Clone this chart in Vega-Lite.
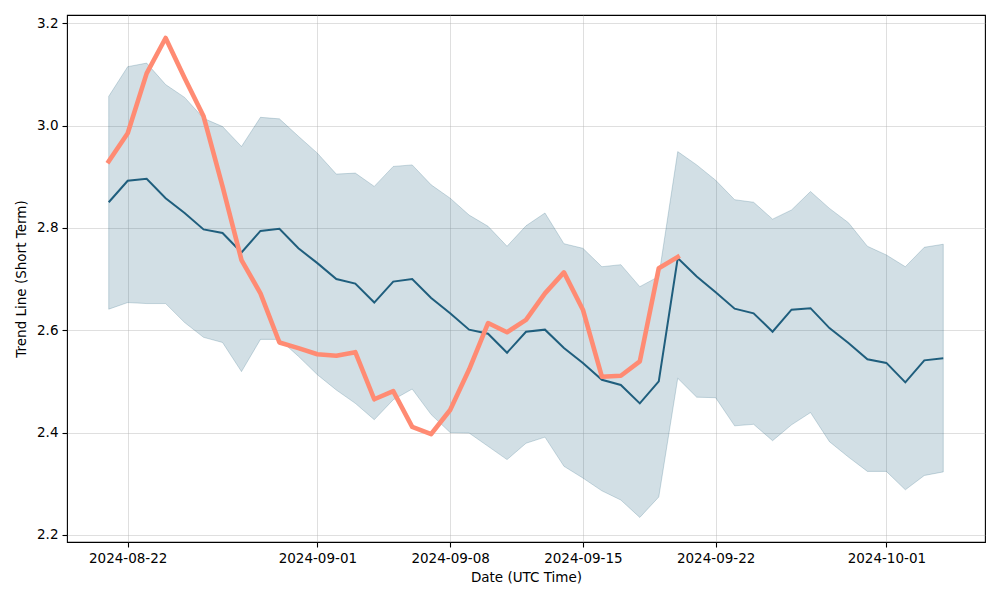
{
  "$schema": "https://vega.github.io/schema/vega-lite/v6.json",
  "width": 918,
  "height": 527,
  "autosize": {"type": "none"},
  "padding": {"left": 67, "top": 15, "right": 15, "bottom": 58},
  "background": "white",
  "config": {
    "view": {"stroke": "black", "strokeWidth": 1.1},
    "axis": {
      "labelFont": "DejaVu Sans",
      "titleFont": "DejaVu Sans",
      "labelFontSize": 13.5,
      "titleFontSize": 13.5,
      "labelColor": "black",
      "titleColor": "black",
      "titleFontWeight": "normal",
      "tickColor": "black",
      "tickSize": 5,
      "tickWidth": 1.1,
      "domain": false,
      "gridColor": "#b0b0b0",
      "gridOpacity": 0.4,
      "gridWidth": 1,
      "labelPadding": 4
    }
  },
  "data": {
    "values": [
      {"date": "2024-08-21", "mean": 2.850, "lower": 2.641, "upper": 3.057, "trend": 2.930},
      {"date": "2024-08-22", "mean": 2.892, "lower": 2.654, "upper": 3.115, "trend": 2.985},
      {"date": "2024-08-23", "mean": 2.896, "lower": 2.652, "upper": 3.122, "trend": 3.102},
      {"date": "2024-08-24", "mean": 2.858, "lower": 2.652, "upper": 3.080, "trend": 3.171},
      {"date": "2024-08-25", "mean": 2.829, "lower": 2.615, "upper": 3.055, "trend": 3.093},
      {"date": "2024-08-26", "mean": 2.797, "lower": 2.586, "upper": 3.014, "trend": 3.018},
      {"date": "2024-08-27", "mean": 2.790, "lower": 2.576, "upper": 2.998, "trend": 2.881},
      {"date": "2024-08-28", "mean": 2.752, "lower": 2.519, "upper": 2.959, "trend": 2.737},
      {"date": "2024-08-29", "mean": 2.794, "lower": 2.582, "upper": 3.016, "trend": 2.672},
      {"date": "2024-08-30", "mean": 2.798, "lower": 2.582, "upper": 3.013, "trend": 2.576},
      {"date": "2024-08-31", "mean": 2.760, "lower": 2.549, "upper": 2.979, "trend": 2.565},
      {"date": "2024-09-01", "mean": 2.731, "lower": 2.513, "upper": 2.946, "trend": 2.553},
      {"date": "2024-09-02", "mean": 2.700, "lower": 2.483, "upper": 2.905, "trend": 2.550},
      {"date": "2024-09-03", "mean": 2.691, "lower": 2.457, "upper": 2.907, "trend": 2.557},
      {"date": "2024-09-04", "mean": 2.654, "lower": 2.425, "upper": 2.881, "trend": 2.465},
      {"date": "2024-09-05", "mean": 2.695, "lower": 2.464, "upper": 2.920, "trend": 2.481},
      {"date": "2024-09-06", "mean": 2.700, "lower": 2.485, "upper": 2.923, "trend": 2.411},
      {"date": "2024-09-07", "mean": 2.663, "lower": 2.435, "upper": 2.884, "trend": 2.397},
      {"date": "2024-09-08", "mean": 2.633, "lower": 2.400, "upper": 2.858, "trend": 2.444},
      {"date": "2024-09-09", "mean": 2.601, "lower": 2.399, "upper": 2.825, "trend": 2.523},
      {"date": "2024-09-10", "mean": 2.593, "lower": 2.373, "upper": 2.803, "trend": 2.614},
      {"date": "2024-09-11", "mean": 2.556, "lower": 2.347, "upper": 2.764, "trend": 2.596},
      {"date": "2024-09-12", "mean": 2.597, "lower": 2.379, "upper": 2.804, "trend": 2.620},
      {"date": "2024-09-13", "mean": 2.601, "lower": 2.391, "upper": 2.829, "trend": 2.672},
      {"date": "2024-09-14", "mean": 2.565, "lower": 2.334, "upper": 2.769, "trend": 2.713},
      {"date": "2024-09-15", "mean": 2.536, "lower": 2.311, "upper": 2.760, "trend": 2.640},
      {"date": "2024-09-16", "mean": 2.503, "lower": 2.286, "upper": 2.724, "trend": 2.509},
      {"date": "2024-09-17", "mean": 2.493, "lower": 2.268, "upper": 2.728, "trend": 2.511},
      {"date": "2024-09-18", "mean": 2.457, "lower": 2.234, "upper": 2.685, "trend": 2.539},
      {"date": "2024-09-19", "mean": 2.500, "lower": 2.274, "upper": 2.705, "trend": 2.721},
      {"date": "2024-09-20", "mean": 2.741, "lower": 2.506, "upper": 2.949, "trend": 2.743},
      {"date": "2024-09-21", "mean": 2.705, "lower": 2.469, "upper": 2.923},
      {"date": "2024-09-22", "mean": 2.674, "lower": 2.468, "upper": 2.893},
      {"date": "2024-09-23", "mean": 2.642, "lower": 2.413, "upper": 2.855},
      {"date": "2024-09-24", "mean": 2.633, "lower": 2.416, "upper": 2.850},
      {"date": "2024-09-25", "mean": 2.597, "lower": 2.384, "upper": 2.817},
      {"date": "2024-09-26", "mean": 2.640, "lower": 2.415, "upper": 2.835},
      {"date": "2024-09-27", "mean": 2.643, "lower": 2.439, "upper": 2.871},
      {"date": "2024-09-28", "mean": 2.604, "lower": 2.382, "upper": 2.838},
      {"date": "2024-09-29", "mean": 2.575, "lower": 2.352, "upper": 2.810},
      {"date": "2024-09-30", "mean": 2.543, "lower": 2.324, "upper": 2.764},
      {"date": "2024-10-01", "mean": 2.536, "lower": 2.324, "upper": 2.747},
      {"date": "2024-10-02", "mean": 2.498, "lower": 2.288, "upper": 2.724},
      {"date": "2024-10-03", "mean": 2.541, "lower": 2.316, "upper": 2.762},
      {"date": "2024-10-04", "mean": 2.545, "lower": 2.323, "upper": 2.768}
    ]
  },
  "encoding": {
    "x": {
      "field": "date",
      "type": "temporal",
      "title": "Date (UTC Time)",
      "scale": {
        "type": "utc",
        "domain": [
          {"year": 2024, "month": 8, "date": 18, "hours": 19, "minutes": 12, "utc": true},
          {"year": 2024, "month": 10, "date": 6, "hours": 4, "minutes": 48, "utc": true}
        ],
        "nice": false
      },
      "axis": {
        "format": "%Y-%m-%d",
        "values": [
          {"year": 2024, "month": 8, "date": 22, "utc": true},
          {"year": 2024, "month": 9, "date": 1, "utc": true},
          {"year": 2024, "month": 9, "date": 8, "utc": true},
          {"year": 2024, "month": 9, "date": 15, "utc": true},
          {"year": 2024, "month": 9, "date": 22, "utc": true},
          {"year": 2024, "month": 10, "date": 1, "utc": true}
        ],
        "labelAngle": 0,
        "titlePadding": 6
      }
    }
  },
  "layer": [
    {
      "mark": {"type": "area", "color": "#1f5e7d", "fillOpacity": 0.2, "stroke": "#1f5e7d", "strokeOpacity": 0.22, "strokeWidth": 1},
      "encoding": {
        "y": {
          "field": "lower",
          "type": "quantitative",
          "title": "Trend Line (Short Term)",
          "scale": {"domain": [2.186, 3.216], "nice": false, "zero": false},
          "axis": {"values": [2.2, 2.4, 2.6, 2.8, 3.0, 3.2], "format": ".1f", "titlePadding": 8}
        },
        "y2": {"field": "upper"}
      }
    },
    {
      "mark": {"type": "line", "color": "#1f5e7d", "strokeWidth": 2},
      "encoding": {"y": {"field": "mean", "type": "quantitative"}}
    },
    {
      "mark": {"type": "line", "color": "#ff8b73", "strokeWidth": 4.6, "strokeJoin": "round", "strokeCap": "square"},
      "encoding": {"y": {"field": "trend", "type": "quantitative"}}
    }
  ]
}
